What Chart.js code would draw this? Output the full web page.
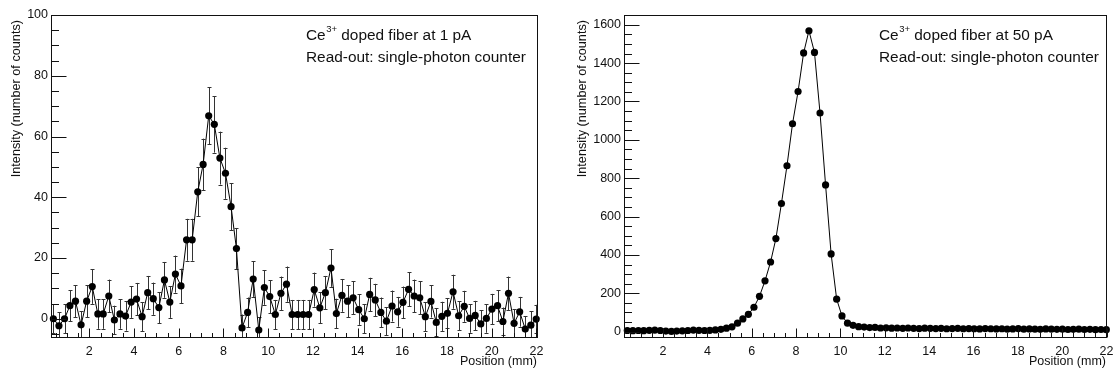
<!DOCTYPE html>
<html><head><meta charset="utf-8">
<script src="https://cdn.jsdelivr.net/npm/chart.js@4.4.1/dist/chart.umd.min.js"></script>
<style>
body{margin:0;background:#fff;width:1113px;height:374px;overflow:hidden;position:relative}
canvas{position:absolute;top:0}
</style></head><body>
<canvas id="c1" width="556" height="374" style="left:0px"></canvas>
<canvas id="c2" width="557" height="374" style="left:556px"></canvas>
<script>
// ---- data ----
const positions = [0.39,0.64,0.89,1.13,1.38,1.63,1.88,2.13,2.38,2.62,
  2.87,3.12,3.37,3.62,3.87,4.11,4.36,4.61,4.86,5.11,
  5.36,5.60,5.85,6.10,6.35,6.60,6.85,7.09,7.34,7.59,
  7.84,8.09,8.34,8.58,8.83,9.08,9.33,9.58,9.83,10.07,
  10.32,10.57,10.82,11.07,11.32,11.56,11.81,12.06,12.31,12.56,
  12.81,13.05,13.30,13.55,13.80,14.05,14.30,14.54,14.79,15.04,
  15.29,15.54,15.79,16.03,16.28,16.53,16.78,17.03,17.28,17.52,
  17.77,18.02,18.27,18.52,18.77,19.01,19.26,19.51,19.76,20.01,
  20.26,20.50,20.75,21.00,21.25,21.50,21.75,21.99];

const counts1pA = [0,-2.3,0,4.3,5.8,-2,5.8,10.6,1.6,1.6,
  7.5,-0.4,1.6,0.9,5.5,6.5,0.7,8.6,6.6,3.7,
  12.8,5.5,14.7,10.8,26,26,41.8,50.8,66.8,64,
  52.9,47.9,36.9,23.1,-3,2.1,13.1,-3.7,10.3,7.3,
  1.4,8.4,11.4,1.4,1.4,1.4,1.4,9.6,3.6,8.6,
  16.7,1.7,7.7,5.8,6.9,3,0,8,6.2,2.1,
  -0.8,4.2,2.3,5.4,9.7,7.5,6.9,0.7,5.7,-1.2,
  0.8,1.8,8.9,1,4.1,0.1,1.1,-1.7,0.1,3.2,
  4.3,-0.9,8.4,-1.5,2.3,-3.4,-2.1,-0.1];

const errors1pA = [4.7,4.4,4.7,5.1,5.3,4.5,5.3,5.7,4.9,4.9,
  5.4,4.7,4.9,4.8,5.2,5.3,4.8,5.5,5.3,5.1,
  5.9,5.2,6.1,5.7,6.9,6.9,8.0,8.5,9.4,9.3,
  8.7,8.4,7.7,6.7,4.4,4.9,5.9,4.2,5.7,5.4,
  4.8,5.5,5.8,4.8,4.8,4.8,4.8,5.6,5.1,5.5,
  6.2,4.9,5.4,5.3,5.4,5.0,4.7,5.5,5.3,4.9,
  4.6,5.1,4.9,5.2,5.6,5.4,5.4,4.8,5.3,4.6,
  4.8,4.9,5.6,4.8,5.1,4.7,4.8,4.5,4.7,5.0,
  5.1,4.6,5.5,4.6,4.9,4.3,4.5,4.7];

const counts50pA = [6,5,6,5,7,8,6,3,1,3,
  4,6,8,7,6,7,9,12,18,25,
  44,66,90,127,184,265,363,485,668,865,
  1084,1252,1453,1569,1456,1140,765,405,169,82,
  44,33,26,24,21,22,19,20,18,19,
  17,19,17,16,18,17,16,17,15,16,
  17,15,16,15,14,16,15,14,15,13,
  14,16,13,14,13,12,14,13,12,13,
  11,12,13,11,12,10,11,10];

const xTickLabels = [2,4,6,8,10,12,14,16,18,20,22];
const yTickLabels1 = [0,20,40,60,80,100];
const yTickLabels2 = [0,200,400,600,800,1000,1200,1400,1600];
const yTitle = 'Intensity (number of counts)';
const xTitle = 'Position (mm)';
const note1 = ['Ce', '3+', ' doped fiber at 1 pA'];
const note2 = ['Ce', '3+', ' doped fiber at 50 pA'];
const noteLine2 = 'Read-out: single-photon counter';

// ---- helpers ----
const FONT = '"Liberation Sans", Arial, Helvetica, sans-serif';

const rootPlugin = {
  id: 'rootDecor',
  beforeDatasetsDraw(chart, args, o) {
    const ctx = chart.ctx, xs = chart.scales.x, ys = chart.scales.y, a = chart.chartArea;
    if (o.errors) {
      ctx.save();
      ctx.beginPath();
      ctx.rect(a.left, a.top, a.right - a.left, a.bottom - a.top);
      ctx.clip();
      ctx.strokeStyle = '#333';
      ctx.lineWidth = 1;
      const d = chart.data.datasets[0].data;
      d.forEach((p, i) => {
        const px = Math.round(xs.getPixelForValue(p.x)) + 0.5;
        const y1 = ys.getPixelForValue(p.y + o.errors[i]);
        const y2 = ys.getPixelForValue(p.y - o.errors[i]);
        ctx.beginPath();
        ctx.moveTo(px, y1); ctx.lineTo(px, y2);
        ctx.moveTo(px - 2, Math.round(y1) + 0.5); ctx.lineTo(px + 2, Math.round(y1) + 0.5);
        ctx.moveTo(px - 2, Math.round(y2) + 0.5); ctx.lineTo(px + 2, Math.round(y2) + 0.5);
        ctx.stroke();
      });
      ctx.restore();
    }
  },
  afterDraw(chart, args, o) {
    const ctx = chart.ctx, xs = chart.scales.x, ys = chart.scales.y, a = chart.chartArea;
    ctx.save();
    ctx.strokeStyle = '#111';
    ctx.lineWidth = 1;
    // frame
    ctx.strokeRect(Math.round(a.left) + 0.5, Math.round(a.top) + 0.5,
      Math.round(a.right - a.left) - 1, Math.round(a.bottom - a.top));
    // y ticks (inside)
    ctx.beginPath();
    const L = Math.round(a.left) + 0.5;
    for (let v = Math.ceil(ys.min / o.yMinor) * o.yMinor; v <= ys.max + 1e-9; v += o.yMinor) {
      const py = Math.round(ys.getPixelForValue(v)) + 0.5;
      const major = o.yMajor.some(m => Math.abs(m - v) < 1e-6);
      ctx.moveTo(L, py); ctx.lineTo(L + (major ? 15 : 7.5), py);
    }
    // x ticks (inside)
    const B = Math.round(a.bottom) + 0.5;
    for (let v = Math.ceil(xs.min / 0.5) * 0.5; v <= xs.max + 1e-9; v += 0.5) {
      const px = Math.round(xs.getPixelForValue(v)) + 0.5;
      const major = Math.abs(v / 2 - Math.round(v / 2)) < 1e-6;
      ctx.moveTo(px, B); ctx.lineTo(px, B - (major ? 9 : 4.5));
    }
    ctx.stroke();

    ctx.fillStyle = '#111';
    // y title (rotated, aligned to top)
    ctx.save();
    ctx.translate(o.yTitleX, a.top + 5);
    ctx.rotate(-Math.PI / 2);
    ctx.font = '12.7px ' + FONT;
    ctx.textAlign = 'right';
    ctx.textBaseline = 'middle';
    ctx.fillText(yTitle, 0, 0);
    ctx.restore();
    // x title
    ctx.font = '12.5px ' + FONT;
    ctx.textAlign = 'right';
    ctx.textBaseline = 'middle';
    ctx.fillText(xTitle, a.right - 1, 362);
    // annotation
    ctx.textAlign = 'left';
    ctx.textBaseline = 'alphabetic';
    let x = o.noteX;
    ctx.font = '15.4px ' + FONT;
    ctx.fillText(o.note[0], x, 40);
    x += ctx.measureText(o.note[0]).width;
    ctx.font = '9.5px ' + FONT;
    ctx.fillText(o.note[1], x + 0.5, 32);
    x += ctx.measureText(o.note[1]).width + 0.5;
    ctx.font = '15.4px ' + FONT;
    ctx.fillText(o.note[2], x, 40);
    ctx.fillText(noteLine2, o.noteX, 62);
    ctx.restore();
  }
};

function makeChart(id, values, cfg) {
  const data = positions.map((p, i) => ({ x: p, y: values[i] }));
  return new Chart(document.getElementById(id), {
    type: 'scatter',
    data: { datasets: [{
      data,
      showLine: true,
      borderColor: '#000',
      borderWidth: 1,
      pointRadius: 3.6,
      pointBackgroundColor: '#000',
      pointBorderWidth: 0,
      pointHoverRadius: 3.6,
      clip: false
    }]},
    plugins: [rootPlugin],
    options: {
      responsive: false,
      animation: false,
      devicePixelRatio: 1,
      events: [],
      layout: { padding: { top: 15, right: cfg.padRight, left: 0, bottom: 0 } },
      plugins: {
        legend: { display: false },
        tooltip: { enabled: false },
        rootDecor: {
          errors: cfg.errors,
          yMinor: cfg.yMinor,
          yMajor: cfg.yTicks,
          yTitleX: cfg.yTitleX,
          note: cfg.note,
          noteX: cfg.noteX
        }
      },
      scales: {
        x: {
          type: 'linear', min: cfg.xMin, max: cfg.xMax,
          afterBuildTicks: s => { s.ticks = xTickLabels.map(v => ({ value: v })); },
          afterFit: s => { s.height = 37; s.paddingLeft = 0; s.paddingRight = 0; },
          grid: { display: false, drawTicks: false },
          border: { display: false },
          ticks: { autoSkip: false, maxRotation: 0, padding: 7, color: '#111',
                   font: { family: FONT, size: 12.5 }, callback: v => String(v) }
        },
        y: {
          type: 'linear', min: cfg.yMin, max: cfg.yMax,
          afterBuildTicks: s => { s.ticks = cfg.yTicks.map(v => ({ value: v })); },
          afterFit: s => { s.width = cfg.yWidth; s.paddingTop = 0; s.paddingBottom = 0; },
          grid: { display: false, drawTicks: false },
          border: { display: false },
          ticks: { autoSkip: false, padding: 3, color: '#111',
                   font: { family: FONT, size: 12.5 }, callback: v => String(v) }
        }
      }
    }
  });
}

makeChart('c1', counts1pA, {
  xMin: 0.285, xMax: 22.07, yMin: -6, yMax: 100, yTicks: yTickLabels1, yMinor: 5,
  yWidth: 51, padRight: 18, errors: errors1pA, yTitleX: 16.7, note: note1, noteX: 306
});
makeChart('c2', counts50pA, {
  xMin: 0.241, xMax: 22.02, yMin: -28, yMax: 1651, yTicks: yTickLabels2, yMinor: 50,
  yWidth: 68, padRight: 6, errors: null, yTitleX: 26.5, note: note2, noteX: 323
});
</script>
</body></html>
